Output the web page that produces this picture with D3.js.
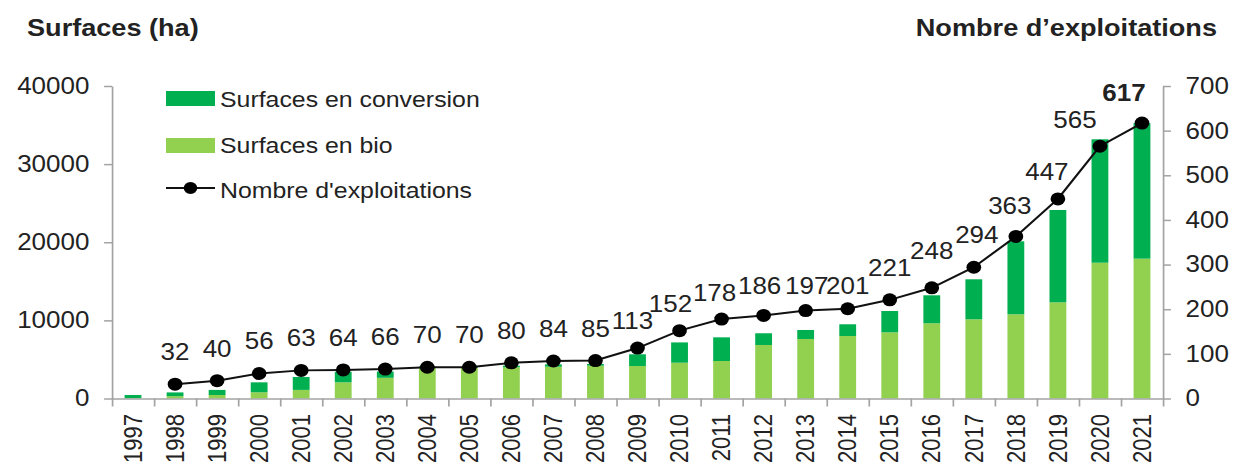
<!DOCTYPE html>
<head>
    <meta charset="utf-8">
    <title>Surfaces et exploitations bio</title>
    <style>
        body { margin: 0; background: #fff; }
        text {
            font-family: "Liberation Sans", Arial, sans-serif;
            fill: #222;
        }
        .axis path, .axis line {
            stroke: #a3a3a3;
            stroke-width: 1.5;
        }
        .axis text { font-size: 23px; fill: #222; }
        .title { font-size: 24px; font-weight: bold; }
        .legend text { font-size: 22px; }
        .year { font-size: 22px; }
        .val { font-size: 23px; }
    </style>
    <script src="https://cdn.jsdelivr.net/npm/d3@7"></script>
</head>
<body>
    <script>
        // data
        var years = ["1997","1998","1999","2000","2001","2002","2003","2004","2005","2006","2007","2008","2009",
                     "2010","2011","2012","2013","2014","2015","2016","2017","2018","2019","2020","2021"];
        var surfBio = [50, 300, 450, 800, 1100, 2070, 2650, 3900, 3900, 4000, 4070, 4200, 4160,
                       4580, 4800, 6850, 7620, 8000, 8470, 9630, 10140, 10780, 12310, 17380, 17900];
        var surfConversion = [400, 480, 650, 1270, 1650, 1350, 800, 200, 150, 200, 300, 220, 1500,
                              2600, 3030, 1500, 1150, 1500, 2730, 3580, 5120, 9340, 11820, 15800, 17350];
        var nbExploitations = [null, 32, 40, 56, 63, 64, 66, 70, 70, 80, 84, 85, 113,
                               152, 178, 186, 197, 201, 221, 248, 294, 363, 447, 565, 617];
        var leftTicks = [0, 10000, 20000, 30000, 40000];
        var rightTicks = [0, 100, 200, 300, 400, 500, 600, 700];

        // the picture is a bit wider than tall, draw in a narrower box and stretch
        var stretch = 1.13,
            W = 1236 / stretch, H = 473;

        var x0 = 112 / stretch, x1 = 1163 / stretch,
            yTop = 86, yBase = 398.5;

        var svg = d3.select("body").append("svg")
            .attr("width", 1236)
            .attr("height", H)
            .attr("viewBox", "0 0 " + W + " " + H)
            .attr("preserveAspectRatio", "none");

        var x = d3.scaleBand()
            .domain(years)
            .range([x0, x1])
            .paddingInner(0.6)
            .paddingOuter(0.3);

        var yL = d3.scaleLinear().domain([0, 40000]).range([yBase, yTop]);
        var yR = d3.scaleLinear().domain([0, 700]).range([yBase, yTop]);

        var rows = years.map(function (y, i) {
            return { year: y, bio: surfBio[i], conv: surfConversion[i], n: nbExploitations[i] };
        });

        // titles
        svg.append("text").attr("class", "title")
            .attr("x", 27 / stretch).attr("y", 36)
            .text("Surfaces (ha)");
        svg.append("text").attr("class", "title")
            .attr("x", 1217 / stretch).attr("y", 36)
            .style("text-anchor", "end")
            .text("Nombre d\u2019exploitations");

        // bars
        var bars = svg.append("g").attr("id", "bars");
        bars.selectAll("rect.bio")
            .data(rows).enter().append("rect")
            .attr("class", "bio")
            .attr("x", d => x(d.year))
            .attr("width", x.bandwidth())
            .attr("y", d => yL(d.bio))
            .attr("height", d => yL(0) - yL(d.bio))
            .attr("fill", "#92d050");
        bars.selectAll("rect.conv")
            .data(rows).enter().append("rect")
            .attr("class", "conv")
            .attr("x", d => x(d.year))
            .attr("width", x.bandwidth())
            .attr("y", d => yL(d.bio + d.conv))
            .attr("height", d => yL(d.bio) - yL(d.bio + d.conv))
            .attr("fill", "#00b050");

        // axes
        svg.append("g").attr("class", "axis")
            .attr("transform", "translate(" + x0 + ",0)")
            .call(d3.axisLeft(yL).tickValues(leftTicks).tickFormat(d3.format("d"))
                .tickSize(7).tickSizeOuter(0).tickPadding(13));

        svg.append("g").attr("class", "axis")
            .attr("transform", "translate(" + x1 + ",0)")
            .call(d3.axisRight(yR).tickValues(rightTicks).tickFormat(d3.format("d"))
                .tickSize(7).tickSizeOuter(0).tickPadding(13));

        // category ticks sit on the band edges
        var edges = d3.scaleLinear().domain([0, years.length]).range([x0, x1]);
        svg.append("g").attr("class", "axis")
            .attr("transform", "translate(0," + yBase + ")")
            .call(d3.axisBottom(edges).tickValues(d3.range(years.length + 1))
                .tickFormat("").tickSize(8).tickSizeOuter(0));

        svg.append("g").selectAll("text")
            .data(years).enter().append("text")
            .attr("class", "year")
            .attr("transform", d => "translate(" + (x(d) + x.bandwidth() / 2) + ",414) rotate(-90)")
            .attr("dy", "0.35em")
            .style("text-anchor", "end")
            .text(d => d);

        // line
        var pts = rows.filter(d => d.n !== null);
        var cx = d => x(d.year) + x.bandwidth() / 2;

        svg.append("path")
            .datum(pts)
            .attr("fill", "none")
            .attr("stroke", "#111")
            .attr("stroke-width", 2)
            .attr("d", d3.line().x(cx).y(d => yR(d.n)));

        svg.append("g").selectAll("circle")
            .data(pts).enter().append("circle")
            .attr("cx", cx)
            .attr("cy", d => yR(d.n))
            .attr("r", 6.5)
            .attr("fill", "#000");

        // value labels, a few are nudged like in the source
        var nudge = {
            "2009": [-5, -19], "2010": [-9, -19], "2011": [-7, -18], "2012": [-4, -21],
            "2013": [1, -17], "2014": [0, -15], "2015": [0, -24], "2016": [0, -29],
            "2017": [3, -24], "2018": [-6, -22], "2019": [-11, -19], "2020": [-25, -18],
            "2021": [-18, -22]
        };
        svg.append("g").selectAll("text")
            .data(pts).enter().append("text")
            .attr("class", "val")
            .attr("x", d => cx(d) + (nudge[d.year] ? nudge[d.year][0] : 0) / stretch)
            .attr("y", d => yR(d.n) + (nudge[d.year] ? nudge[d.year][1] : -24))
            .style("text-anchor", "middle")
            .style("font-weight", d => d.year === "2021" ? "bold" : "normal")
            .text(d => d.n);

        // legend
        var lg = svg.append("g").attr("class", "legend");
        var lx = 166 / stretch, lw = 49 / stretch, tx = 220 / stretch;
        lg.append("rect").attr("x", lx).attr("y", 91).attr("width", lw).attr("height", 15).attr("fill", "#00b050");
        lg.append("text").attr("x", tx).attr("y", 107).text("Surfaces en conversion");
        lg.append("rect").attr("x", lx).attr("y", 138).attr("width", lw).attr("height", 15).attr("fill", "#92d050");
        lg.append("text").attr("x", tx).attr("y", 153).text("Surfaces en bio");
        lg.append("line").attr("x1", lx).attr("x2", lx + lw).attr("y1", 188).attr("y2", 188)
            .attr("stroke", "#111").attr("stroke-width", 2);
        lg.append("circle").attr("cx", lx + lw / 2).attr("cy", 188).attr("r", 6).attr("fill", "#000");
        lg.append("text").attr("x", tx).attr("y", 198).text("Nombre d'exploitations");
    </script>
</body>
